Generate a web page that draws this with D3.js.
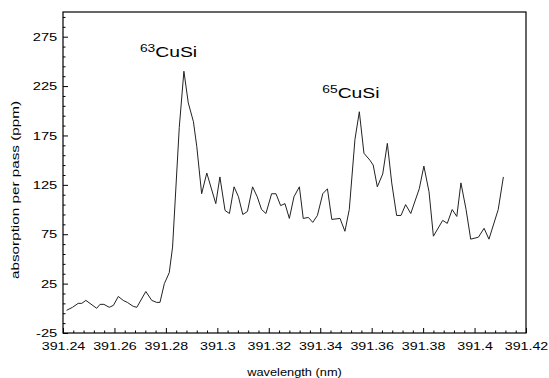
<!DOCTYPE html>
<html>
<head>
<meta charset="utf-8">
<script src="https://cdnjs.cloudflare.com/ajax/libs/d3/7.8.5/d3.min.js"></script>
<style>
    body { margin: 0; background: #fff; }
    svg text { font-family: "Liberation Sans", Arial, sans-serif; fill: #000; }
</style>
</head>
<body>
<div id="chart"></div>
<script>
// wavelength (nm) and absorption (ppm)
let wavelength = [
    391.2414, 391.2437, 391.2459, 391.2473, 391.2489, 391.2531, 391.2544, 391.2559, 391.2580, 391.2596,
    391.2615, 391.2634, 391.2650, 391.2673, 391.2687, 391.2722, 391.2745, 391.2764, 391.2777, 391.2794,
    391.2813, 391.2826, 391.2852, 391.2870, 391.2887, 391.2907, 391.2920, 391.2939, 391.2959, 391.2994,
    391.3010, 391.3030, 391.3047, 391.3065, 391.3082, 391.3099, 391.3117, 391.3137, 391.3155, 391.3172,
    391.3189, 391.3211, 391.3228, 391.3246, 391.3263, 391.3280, 391.3298, 391.3319, 391.3334, 391.3354,
    391.3371, 391.3389, 391.3410, 391.3428, 391.3445, 391.3477, 391.3496, 391.3513, 391.3535, 391.3552,
    391.3570, 391.3593, 391.3606, 391.3622, 391.3643, 391.3661, 391.3678, 391.3697, 391.3714, 391.3732,
    391.3752, 391.3785, 391.3803, 391.3823, 391.3840, 391.3876, 391.3894, 391.3913, 391.3931, 391.3947,
    391.3967, 391.3985, 391.4015, 391.4037, 391.4056, 391.4092, 391.4112
];
let absorption = [
    -2, 1, 5, 5, 8, 0, 4, 4, 1, 3,
    12, 8, 6, 2, 1, 17, 8, 6, 6, 25,
    36, 62, 183, 240, 208, 189, 164, 116, 137, 106,
    133, 99, 96, 123, 113, 95, 98, 123, 113, 100,
    96, 116, 116, 104, 106, 91, 113, 123, 91, 92,
    87, 94, 116, 121, 90, 91, 78, 100, 171, 199,
    157, 150, 145, 123, 136, 167, 127, 94, 94, 105,
    96, 121, 144, 118, 73, 89, 86, 100, 93, 127,
    100, 70, 72, 81, 70, 100, 133
];

let yMajor = [-25, 25, 75, 125, 175, 225, 275];
let xMajor = [391.24, 391.26, 391.28, 391.3, 391.32, 391.34, 391.36, 391.38, 391.4, 391.42];

let peaks = [
    {iso: "63", name: "CuSi", x: 391.2699, y: 254},
    {iso: "65", name: "CuSi", x: 391.3408, y: 213}
];

let W = 549, H = 378;
let margin = {top: 12, right: 23, bottom: 45, left: 63};
let width = W - margin.left - margin.right,
    height = H - margin.top - margin.bottom;

let x = d3.scaleLinear().domain([391.24, 391.42]).range([0, width]);
let y = d3.scaleLinear().domain([-25, 300]).range([height, 0]);

let yMinor = d3.range(-25, 300, 10).filter(v => yMajor.indexOf(v) < 0);
let xMinor = d3.range(0, 46).map(i => 391.24 + i * 0.004).filter((v, i) => i % 5 !== 0);

let svg = d3.select("#chart").append("svg")
    .attr("width", W)
    .attr("height", H);

let g = svg.append("g")
    .attr("transform", "translate(" + margin.left + "," + margin.top + ")");

// frame
g.append("rect")
    .attr("width", width)
    .attr("height", height)
    .attr("fill", "none")
    .attr("stroke", "#000")
    .attr("stroke-width", 1.2);

// minor ticks
g.append("g")
    .call(d3.axisLeft(y).tickValues(yMinor).tickSize(-2.5).tickFormat(""))
    .call(a => a.select(".domain").remove());
g.append("g")
    .attr("transform", "translate(0," + height + ")")
    .call(d3.axisBottom(x).tickValues(xMinor).tickSize(-2.5).tickFormat(""))
    .call(a => a.select(".domain").remove());

// Y axis
let yAxis = g.append("g")
    .call(d3.axisLeft(y).tickValues(yMajor).tickSize(-5).tickPadding(4.5)
        .tickFormat(d => String(d)));
yAxis.select(".domain").remove();
yAxis.selectAll("text")
    .attr("font-size", 11.5)
    .attr("transform", "scale(1.28,1)");

// X axis
let xAxis = g.append("g")
    .attr("transform", "translate(0," + height + ")")
    .call(d3.axisBottom(x).tickValues(xMajor).tickSize(-5).tickPadding(9)
        .tickFormat(d => String(+d.toFixed(2))));
xAxis.select(".domain").remove();
xAxis.selectAll("text")
    .attr("font-size", 11.5)
    .attr("transform", "scale(1.24,1)");
g.selectAll(".tick line").attr("stroke", "#000");

// spectrum
let data = wavelength.map((w, i) => ({w: w, a: absorption[i]}));
let line = d3.line()
    .x(d => x(d.w))
    .y(d => y(d.a));

g.append("path")
    .datum(data)
    .attr("fill", "none")
    .attr("stroke", "#222")
    .attr("stroke-width", 1)
    .attr("stroke-linejoin", "round")
    .attr("d", line);

// peak labels
peaks.forEach(p => {
    let t = g.append("g")
        .attr("transform", "translate(" + x(p.x) + "," + y(p.y) + ") scale(1.38,1)")
        .append("text");
    t.append("tspan").attr("font-size", 10).attr("dy", -5).text(p.iso);
    t.append("tspan").attr("font-size", 14).attr("dy", 5).text(p.name);
});

// axis titles
svg.append("g")
    .attr("transform", "translate(" + (margin.left + width / 2) + ",375.5) scale(1.22,1)")
    .append("text")
    .attr("text-anchor", "middle")
    .attr("font-size", 10.5)
    .text("wavelength (nm)");

svg.append("text")
    .attr("transform", "translate(18.5,190) rotate(-90)")
    .attr("text-anchor", "middle")
    .attr("font-size", 10.5)
    .attr("textLength", 178)
    .attr("lengthAdjust", "spacingAndGlyphs")
    .text("absorption per pass (ppm)");
</script>
</body>
</html>
